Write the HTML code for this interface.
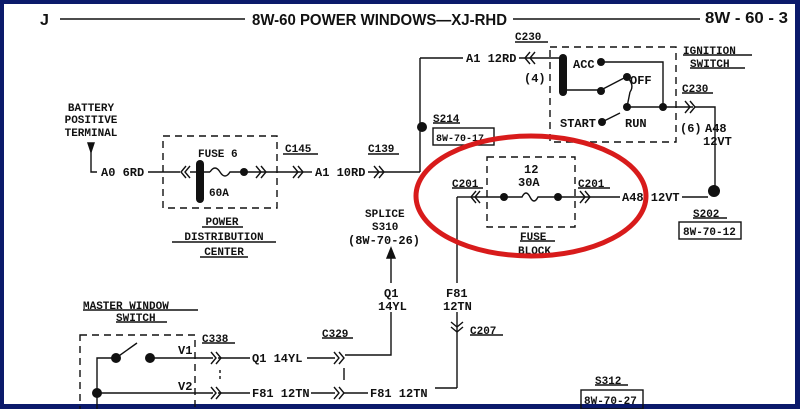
<!DOCTYPE html>
<html><head><meta charset="utf-8"><style>
html,body{margin:0;padding:0;background:#0b1a6b;}
svg{display:block}
text{font-family:"Liberation Mono",monospace;font-weight:bold;fill:#111;}
.h{font-family:"Liberation Sans",sans-serif;font-weight:bold;font-size:16px}
.s{font-size:11px}
.m{font-size:12px;font-weight:normal}
</style></head><body>
<svg width="800" height="409" viewBox="0 0 800 409" xmlns="http://www.w3.org/2000/svg">
<rect x="0" y="0" width="800" height="409" fill="#0b1a6b"/>
<rect x="4" y="4" width="791" height="400" fill="#fff"/>
<g stroke="#111" stroke-width="1.4" fill="none">
<line x1="60" y1="19" x2="245" y2="19"/><line x1="513" y1="19" x2="700" y2="19"/>
<path d="M91 143 V172 H97"/><path d="M88 143 L91 152 L94 143Z" fill="#111"/>
<line x1="148" y1="172" x2="180" y2="172"/>
<rect x="163" y="136" width="114" height="72" stroke-dasharray="7,5"/>
<path d="M186 166 l-5 6 5 6 M190 166 l-5 6 5 6"/>
<line x1="190" y1="172" x2="210" y2="172"/>
<path d="M210 172 q5 -8 10 0 q5 8 10 0 h14"/>
<line x1="244" y1="172" x2="300" y2="172"/>
<path d="M256 166 l5 6 -5 6 M261 166 l5 6 -5 6 M293 166 l5 6 -5 6 M298 166 l5 6 -5 6"/>
<line x1="300" y1="172" x2="312" y2="172"/>
<line x1="368" y1="172" x2="420" y2="172"/>
<path d="M374 166 l5 6 -5 6 M379 166 l5 6 -5 6"/>
<line x1="420" y1="172" x2="420" y2="58"/>
<line x1="420" y1="58" x2="463" y2="58"/>
<line x1="519" y1="58" x2="563" y2="58"/>
<path d="M530 52 l-5 6 5 6 M535 52 l-5 6 5 6"/>
<line x1="283" y1="154" x2="318" y2="154"/><line x1="368" y1="154" x2="399" y2="154"/>
<line x1="515" y1="42" x2="548" y2="42"/><line x1="433" y1="123" x2="460" y2="123"/>
<rect x="433" y="128" width="61" height="17"/>
<rect x="550" y="47" width="126" height="95" stroke-dasharray="7,5"/>
<path d="M601 62 H663 V107"/>
<path d="M563 90 H601"/>
<path d="M601 90 L626 77"/>
<path d="M627 77 q8 8 3 15 M627 107 l3 -15"/>
<path d="M602 122 L620 113"/>
<path d="M627 107 H693"/>
<path d="M685 101 l5 6 -5 6 M690 101 l5 6 -5 6"/>
<path d="M695 107 H715 V191"/>
<line x1="682" y1="93" x2="713" y2="93"/><line x1="683" y1="55" x2="752" y2="55"/><line x1="690" y1="68" x2="745" y2="68"/>
<rect x="487" y="157" width="88" height="70" stroke-dasharray="7,5"/>
<path d="M473 197 H522 q4 -8 8 0 q4 8 8 0 H590"/>
<path d="M476 191 l-5 6 5 6 M480 191 l-5 6 5 6 M580 191 l5 6 -5 6 M585 191 l5 6 -5 6"/>
<line x1="590" y1="197" x2="620" y2="197"/>
<line x1="682" y1="197" x2="708" y2="197"/>
<line x1="452" y1="188" x2="483" y2="188"/><line x1="578" y1="188" x2="610" y2="188"/>
<line x1="520" y1="241" x2="555" y2="241"/>
<path d="M457 197 H473"/>
<line x1="457" y1="197" x2="457" y2="283"/>
<line x1="457" y1="312" x2="457" y2="388"/>
<path d="M451 322 l6 5 6 -5 M451 327 l6 5 6 -5"/>
<line x1="470" y1="335" x2="503" y2="335"/>
<line x1="435" y1="388" x2="457" y2="388"/>
<line x1="693" y1="218" x2="727" y2="218"/>
<rect x="679" y="222" width="62" height="17"/>
<path d="M391 252 V283 M391 312 V355 H345"/>
<path d="M387 258 L391 248 L395 258Z" fill="#111"/>
<rect x="80" y="335" width="115" height="80" stroke-dasharray="7,5"/>
<path d="M97 415 V358 H116 M116 358 L137 343 M150 358 H213 M97 393 H213"/>
<path d="M211 352 l5 6 -5 6 M216 352 l5 6 -5 6 M211 387 l5 6 -5 6 M216 387 l5 6 -5 6"/>
<path d="M218 358 H250 M218 393 H250 M307 358 H335 M311 393 H335"/>
<path d="M334 352 l5 6 -5 6 M339 352 l5 6 -5 6 M334 387 l5 6 -5 6 M339 387 l5 6 -5 6"/>
<path d="M344 393 H368" />
<line x1="220" y1="370" x2="220" y2="380" stroke-dasharray="3,3"/><line x1="344" y1="368" x2="344" y2="380"/>
<line x1="83" y1="310" x2="198" y2="310"/><line x1="116" y1="322" x2="167" y2="322"/>
<line x1="202" y1="343" x2="235" y2="343"/><line x1="322" y1="338" x2="353" y2="338"/>
<line x1="202" y1="227" x2="243" y2="227"/><line x1="172" y1="242" x2="276" y2="242"/><line x1="200" y1="257" x2="248" y2="257"/>
<line x1="595" y1="385" x2="628" y2="385"/>
<rect x="581" y="390" width="62" height="19"/>
</g>
<g fill="#111">
<rect x="196" y="160" width="8" height="43" rx="4"/>
<circle cx="244" cy="172" r="4"/>
<circle cx="422" cy="127" r="5"/>
<rect x="559" y="54" width="8" height="42" rx="4"/>
<circle cx="601" cy="62" r="4"/><circle cx="601" cy="91" r="4"/><circle cx="627" cy="77" r="4"/>
<circle cx="602" cy="122" r="4"/><circle cx="627" cy="107" r="4"/><circle cx="663" cy="107" r="4"/>
<circle cx="714" cy="191" r="6"/>
<circle cx="504" cy="197" r="4"/><circle cx="558" cy="197" r="4"/>
<circle cx="116" cy="358" r="5"/><circle cx="150" cy="358" r="5"/><circle cx="97" cy="393" r="5"/>
</g>
<text class="h" x="40" y="25">J</text>
<text class="h" x="252" y="25" textLength="255" lengthAdjust="spacingAndGlyphs">8W-60 POWER WINDOWS—XJ-RHD</text>
<text class="h" x="705" y="23" textLength="83" lengthAdjust="spacingAndGlyphs">8W - 60 - 3</text>
<g class="s">
<text x="91" y="111" text-anchor="middle">BATTERY</text>
<text x="91" y="123" text-anchor="middle">POSITIVE</text>
<text x="91" y="136" text-anchor="middle">TERMINAL</text>
<text x="198" y="157">FUSE 6</text>
<text x="209" y="196">60A</text>
<text x="285" y="152">C145</text>
<text x="368" y="152">C139</text>
<text x="515" y="40">C230</text>
<text x="433" y="122">S214</text>
<text x="683" y="54">IGNITION</text>
<text x="690" y="67">SWITCH</text>
<text x="682" y="92">C230</text>
<text x="452" y="187">C201</text>
<text x="578" y="187">C201</text>
<text x="520" y="240">FUSE</text>
<text x="518" y="254">BLOCK</text>
<text x="693" y="217">S202</text>
<text x="365" y="217">SPLICE</text>
<text x="372" y="230">S310</text>
<text x="470" y="334">C207</text>
<text x="83" y="309">MASTER WINDOW</text>
<text x="116" y="321">SWITCH</text>
<text x="202" y="342">C338</text>
<text x="322" y="337">C329</text>
<text x="595" y="384">S312</text>
<text x="222" y="225" text-anchor="middle">POWER</text>
<text x="224" y="240" text-anchor="middle">DISTRIBUTION</text>
<text x="224" y="255" text-anchor="middle">CENTER</text>
</g>
<g class="m">
<text x="101" y="176">A0 6RD</text>
<text x="315" y="176">A1 10RD</text>
<text x="466" y="62">A1 12RD</text>
<text x="524" y="82">(4)</text>
<text x="573" y="68">ACC</text>
<text x="630" y="84">OFF</text>
<text x="560" y="127">START</text>
<text x="625" y="127">RUN</text>
<text x="680" y="132">(6)</text>
<text x="705" y="132">A48</text>
<text x="703" y="145">12VT</text>
<text x="436" y="141" font-size="10">8W-70-17</text>
<text x="524" y="173">12</text>
<text x="518" y="186">30A</text>
<text x="622" y="201">A48 12VT</text>
<text x="683" y="235" font-size="11">8W-70-12</text>
<text x="348" y="244">(8W-70-26)</text>
<text x="384" y="297">Q1</text>
<text x="378" y="310">14YL</text>
<text x="446" y="297">F81</text>
<text x="443" y="310">12TN</text>
<text x="178" y="354">V1</text>
<text x="178" y="390">V2</text>
<text x="252" y="362">Q1 14YL</text>
<text x="252" y="397">F81 12TN</text>
<text x="370" y="397">F81 12TN</text>
<text x="584" y="404" font-size="11">8W-70-27</text>
</g>
<ellipse cx="531" cy="196" rx="115" ry="60" fill="none" stroke="#d81b1b" stroke-width="5"/>
</svg>
</body></html>
